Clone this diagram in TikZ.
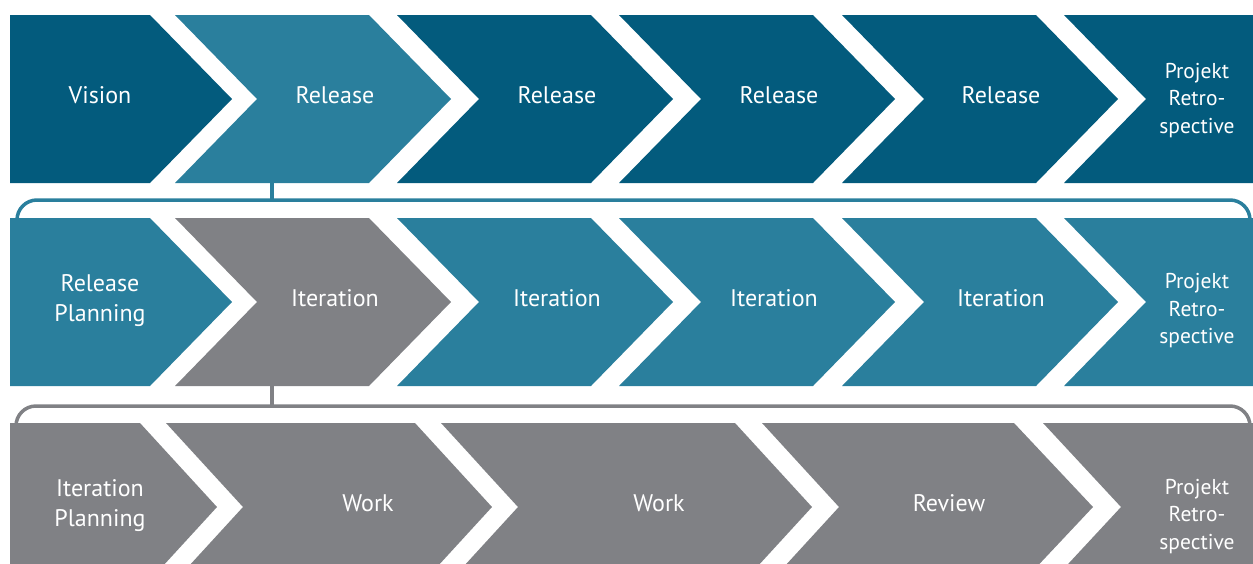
\documentclass[tikz,border=0pt]{standalone}
\usepackage{fontspec}
\setmainfont{PT Sans}

\definecolor{stagedark}{RGB}{3,91,125}
\definecolor{stageteal}{RGB}{42,127,157}
\definecolor{stagegray}{RGB}{128,129,133}

% chevron: fill, left x, right x, top y, notch depth, tip depth
\newcommand{\chev}[6]{\fill[#1] (#2,#4) -- (#3,#4) -- ({#3+#6},{#4+84}) -- (#3,{#4+168}) -- (#2,{#4+168}) -- ({#2+#5},{#4+84}) -- cycle;}

\begin{document}
\begin{tikzpicture}[x=1pt,y=-1pt,
  stage/.style={text=white, font=\fontsize{24}{30}\selectfont, align=center, inner sep=0pt},
  retro/.style={text=white, font=\fontsize{21.5}{27.5}\selectfont, align=center, inner sep=0pt},
  bracket/.style={line width=3.5pt, rounded corners=20pt},
  stem/.style={line width=3.5pt}]
\useasboundingbox (0,0) rectangle (1253,563);
\clip (0,0) rectangle (1253,563);
% brackets behind the rows:
\draw[bracket, stageteal] (17,228) -- (17,200) -- (1250,200) -- (1250,228);
\draw[bracket, stagegray] (16,433) -- (16,406) -- (1250,406) -- (1250,433);
% top row:
\chev{stagedark}{10}{150}{15}{0}{82}
\chev{stageteal}{175}{369}{15}{82}{82}
\chev{stagedark}{397}{591}{15}{82}{82}
\chev{stagedark}{619}{813}{15}{82}{82}
\chev{stagedark}{842}{1036}{15}{82}{82}
\chev{stagedark}{1064}{1253}{15}{82}{0}
\node[stage] (vision) at (100,95) {Vision};
\node[stage] (rel1) at (335,95) {Release};
\node[stage] (rel2) at (557,95) {Release};
\node[stage] (rel3) at (779,95) {Release};
\node[stage] (rel4) at (1001,95) {Release};
\node[retro] (retro1) at (1197,100.5) {Projekt\\Retro-\\spective};
% middle row:
\chev{stageteal}{10}{150}{218}{0}{82}
\chev{stagegray}{175}{369}{218}{82}{82}
\chev{stageteal}{397}{591}{218}{82}{82}
\chev{stageteal}{619}{813}{218}{82}{82}
\chev{stageteal}{842}{1036}{218}{82}{82}
\chev{stageteal}{1064}{1253}{218}{82}{0}
\node[stage] (relplan) at (100,301) {Release\\Planning};
\node[stage] (it1) at (335,298) {Iteration};
\node[stage] (it2) at (557,298) {Iteration};
\node[stage] (it3) at (774,298) {Iteration};
\node[stage] (it4) at (1001,298) {Iteration};
\node[retro] (retro2) at (1197,311) {Projekt\\Retro-\\spective};
% bottom row:
\chev{stagegray}{10}{140}{423}{0}{77}
\chev{stagegray}{166}{415}{423}{77}{77}
\chev{stagegray}{441}{735}{423}{77}{77}
\chev{stagegray}{762}{1014}{423}{77}{79}
\chev{stagegray}{1043}{1253}{423}{78}{0}
\node[stage] (itplan) at (100,506) {Iteration\\Planning};
\node[stage] (work1) at (368,503) {Work};
\node[stage] (work2) at (659,503) {Work};
\node[stage] (review) at (949,503) {Review};
\node[retro] (retro3) at (1197,516.5) {Projekt\\Retro-\\spective};
% stems from the open stage down to its bracket:
\coordinate (rel1 foot) at (272,182);
\coordinate (rel1 bracket) at (272,201);
\coordinate (it1 foot) at (272,385);
\coordinate (it1 bracket) at (272,407);
\draw[stem, stageteal] (rel1 foot) -- (rel1 bracket);
\draw[stem, stagegray] (it1 foot) -- (it1 bracket);
\end{tikzpicture}
\end{document}
